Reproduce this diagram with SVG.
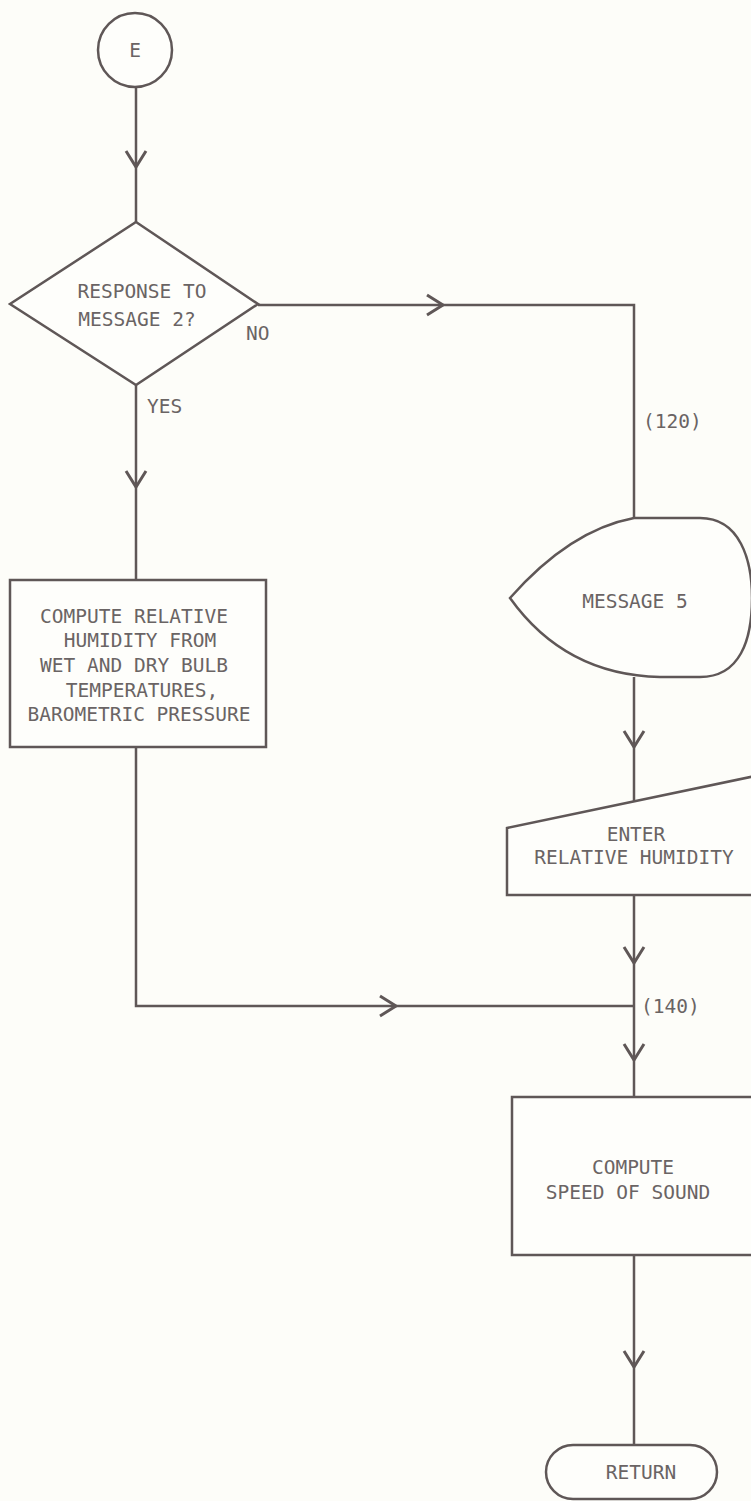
<svg xmlns="http://www.w3.org/2000/svg" width="751" height="1501" viewBox="0 0 751 1501">
<defs>
<style>
.s{fill:none;stroke:#5f5757;stroke-width:2.5;stroke-linejoin:miter}
.n{fill:#fefefb;stroke:#5f5757;stroke-width:2.5}
.t{font-family:"DejaVu Sans Mono","Liberation Mono",monospace;font-size:19.5px;fill:#6a6464;text-anchor:middle}
.l{font-family:"DejaVu Sans Mono","Liberation Mono",monospace;font-size:19.5px;fill:#6a6464}
</style>
<marker id="a" viewBox="-18 -12 20 24" refX="0" refY="0" markerWidth="20" markerHeight="24" markerUnits="userSpaceOnUse" orient="auto">
<path d="M-16,-10 L0,0 L-16,10" fill="none" stroke="#5f5757" stroke-width="3"/>
</marker>
</defs>
<rect width="751" height="1501" fill="#fdfdf9"/>
<g id="connectors">
<path class="s" d="M136,87 L136,167" marker-end="url(#a)"/>
<path class="s" d="M136,167 L136,222"/>
<path class="s" d="M258,305 L443,305" marker-end="url(#a)"/>
<path class="s" d="M443,305 L634,305 L634,518"/>
<path class="s" d="M136,385 L136,487" marker-end="url(#a)"/>
<path class="s" d="M136,487 L136,580"/>
<path class="s" d="M634,677 L634,747" marker-end="url(#a)"/>
<path class="s" d="M634,747 L634,802"/>
<path class="s" d="M136,747 L136,1006 L396,1006" marker-end="url(#a)"/>
<path class="s" d="M396,1006 L634,1006"/>
<path class="s" d="M634,895 L634,963" marker-end="url(#a)"/>
<path class="s" d="M634,963 L634,1060" marker-end="url(#a)"/>
<path class="s" d="M634,1060 L634,1097"/>
<path class="s" d="M634,1255 L634,1367" marker-end="url(#a)"/>
<path class="s" d="M634,1367 L634,1445"/>
<text class="l" x="246" y="340">NO</text>
<text class="l" x="147" y="413">YES</text>
<text class="l" x="643" y="428">(120)</text>
<text class="l" x="641" y="1013">(140)</text>
</g>
<g id="start">
<circle class="n" cx="135" cy="50" r="37"/>
<text class="t" x="135" y="57">E</text>
</g>
<g id="decision">
<path class="n" d="M136,222 L258,304 L136,385 L10,304 Z"/>
<text class="t" x="142" y="298">RESPONSE TO</text>
<text class="t" x="137" y="326">MESSAGE 2?</text>
</g>
<g id="compute-rh">
<rect class="n" x="10" y="580" width="256" height="167"/>
<text class="t" x="134" y="623">COMPUTE RELATIVE</text>
<text class="t" x="140" y="647">HUMIDITY FROM</text>
<text class="t" x="134" y="672">WET AND DRY BULB</text>
<text class="t" x="142" y="697">TEMPERATURES,</text>
<text class="t" x="139" y="721">BAROMETRIC PRESSURE</text>
</g>
<g id="message5">
<path class="n" d="M510,598 Q570,530 634,518 L700,518 C740,518 752,560 752,598 C752,640 740,677 700,677 L660,677 Q565,675 510,598 Z"/>
<text class="t" x="635" y="608">MESSAGE 5</text>
</g>
<g id="enter-rh">
<path class="n" d="M507,828 L760,775 L760,895 L507,895 Z"/>
<text class="t" x="636" y="841">ENTER</text>
<text class="t" x="634" y="864">RELATIVE HUMIDITY</text>
</g>
<g id="compute-sos">
<rect class="n" x="512" y="1097" width="250" height="158"/>
<text class="t" x="633" y="1174">COMPUTE</text>
<text class="t" x="628" y="1199">SPEED OF SOUND</text>
</g>
<g id="return">
<rect class="n" x="546" y="1445" width="171" height="54" rx="27" ry="27"/>
<text class="t" x="641" y="1479">RETURN</text>
</g>
</svg>
